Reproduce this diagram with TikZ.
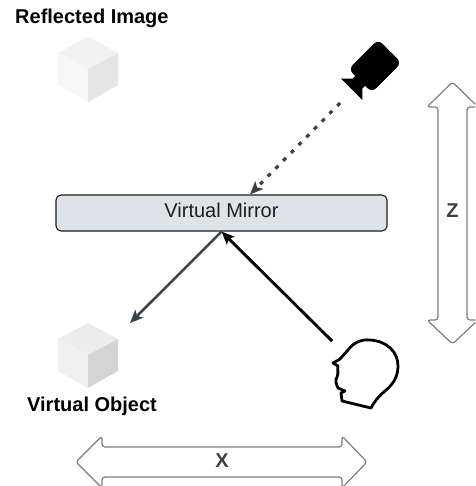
\documentclass[tikz,border=0pt]{standalone}
\usepackage{fontspec}
\setmainfont{Liberation Sans}
\usetikzlibrary{arrows.meta}
\definecolor{slate}{HTML}{3A414B}
\definecolor{mirrorfill}{HTML}{DFE2E7}
\definecolor{dimline}{HTML}{7E7E7E}
\definecolor{labeltext}{HTML}{1E1E1E}
\tikzset{
  boldlabel/.style={font=\fontsize{20}{24}\selectfont\bfseries, inner sep=0pt, text=black},
  dimlabel/.style={font=\fontsize{20}{24}\selectfont\bfseries, inner sep=0pt, text=slate},
  mirrorbox/.style={draw=labeltext, fill=mirrorfill, rounded corners=5pt, line width=1.1pt,
    minimum width=331pt, minimum height=36pt, inner sep=0pt,
    font=\fontsize{20}{24}\selectfont, text=labeltext},
  dimarrow/.style={draw=dimline, fill=white, line width=1.2pt, rounded corners=3pt},
  reflectarrow/.style={draw=slate, line width=2.5pt, -{Stealth[length=13pt,width=11pt,inset=3pt]}},
  viewarrow/.style={draw=black, line width=2.9pt, -{Stealth[length=13pt,width=11pt,inset=3pt]}},
  camarrow/.style={draw=slate, line width=3.2pt, dash pattern=on 4pt off 7pt,
    -{Stealth[length=13pt,width=11pt,inset=3pt]}},
}
\begin{document}
\begin{tikzpicture}[x=1pt,y=-1pt]
\useasboundingbox (0,0) rectangle (475,486);
\clip (0,0) rectangle (475,486);

% labels
\node[boldlabel, anchor=base west] (reflabel) at (15,24) {Reflected Image};
\node[boldlabel, anchor=base west] (objlabel) at (27,411) {Virtual Object};

% reflected cube
\fill[fill={rgb,255:red,242;green,242;blue,242}] (88,37) -- (118,53) -- (88,69) -- (58,53) -- cycle;
\fill[fill={rgb,255:red,247;green,247;blue,247}] (58,53) -- (88,69) -- (88,102) -- (58,85) -- cycle;
\fill[fill={rgb,255:red,229;green,229;blue,229}] (118,53) -- (88,69) -- (88,102) -- (118,85) -- cycle;
\coordinate (refcube) at (88,69);

% virtual object cube
\fill[fill={rgb,255:red,236;green,236;blue,236}] (88,323) -- (118,339) -- (88,355) -- (58,339) -- cycle;
\fill[fill={rgb,255:red,240;green,240;blue,240}] (58,339) -- (88,355) -- (88,388) -- (58,371) -- cycle;
\fill[fill={rgb,255:red,212;green,212;blue,212}] (118,339) -- (88,355) -- (88,388) -- (118,371) -- cycle;
\coordinate (objcube) at (130,323);

% mirror
\node[mirrorbox] (mirror) at (221.5,213) {};
\node[font=\fontsize{20}{24}\selectfont, text=labeltext, inner sep=0pt, anchor=base] (mirrortext) at (221.5,217) {Virtual Mirror};
\coordinate (mirrorhit) at (250,194.5);

% camera
\begin{scope}[shift={(375,66)}, rotate=225]
  \fill[black, rounded corners=6pt] (-21,-16.5) rectangle (21,16.5);
  \fill[black] (20,-7) -- (25,-7) -- (33,-15) -- (33,15) -- (25,7) -- (20,7) -- cycle;
\end{scope}
\coordinate (camlens) at (340,103);

% head
\draw[black, fill=white, line width=2.8pt, line join=round]
  (348,350) .. controls (353,343) and (361,339) .. (370,340)
  .. controls (387,341) and (398,352) .. (398,366)
  .. controls (398,378) and (392,385) .. (385,391)
  .. controls (378,397) and (374,402) .. (371,408)
  -- (342,401) -- (341,393) -- (345,391) -- (338,388)
  .. controls (336,384) and (335,380) .. (337,377)
  .. controls (339,373) and (337,369) .. (338,366)
  -- (333,363) -- (340,359) -- cycle;
\coordinate (headeye) at (332,341);

% connectors
\draw[camarrow] (camlens) -- (mirrorhit);
\draw[reflectarrow] (mirror.south) -- (objcube);
\draw[viewarrow] (headeye) -- (mirror.south);

% dimension arrows
\draw[dimarrow] (452.5,82) -- (478,107) -- (467,107) -- (467,320) -- (478,320) -- (452.5,344)
  -- (427,320) -- (438,320) -- (438,107) -- (427,107) -- cycle;
\node[dimlabel, anchor=base] (zlabel) at (452.5,217) {Z};

\draw[dimarrow] (76,462) -- (102,436) -- (102,447) -- (342,447) -- (342,436) -- (367,462)
  -- (342,488) -- (342,477) -- (102,477) -- (102,488) -- cycle;
\node[dimlabel, anchor=base] (xlabel) at (222,467) {X};
\end{tikzpicture}
\end{document}
